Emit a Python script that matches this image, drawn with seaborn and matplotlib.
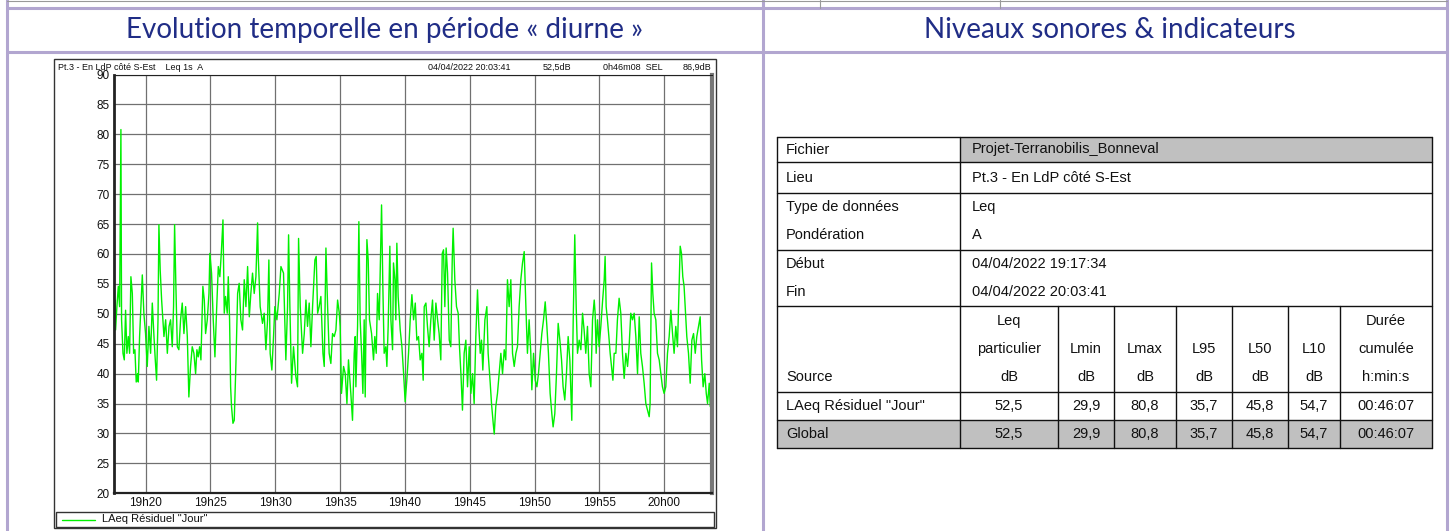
import matplotlib
matplotlib.use("Agg")
import matplotlib.pyplot as plt
import pandas as pd
import seaborn as sns
from matplotlib.patches import Rectangle

# ---- data ----
# time in minutes after 19h00, Leq 1s in dB(A)
minutes = [
    17.57, 17.64, 17.69, 17.79, 17.90, 18.00, 18.10, 18.15, 18.26, 18.36, 18.46, 18.56, 18.67, 18.77,
    18.87, 18.98, 19.08, 19.18, 19.28, 19.39, 19.44, 19.54, 19.64, 19.75, 19.87, 20.00, 20.13, 20.26,
    20.39, 20.52, 20.65, 20.75, 20.85, 20.96, 21.03, 21.13, 21.24, 21.34, 21.42, 21.55, 21.68, 21.81,
    21.93, 22.06, 22.16, 22.24, 22.34, 22.45, 22.57, 22.70, 22.83, 22.96, 23.09, 23.22, 23.34, 23.47,
    23.60, 23.73, 23.86, 23.96, 24.06, 24.17, 24.27, 24.42, 24.53, 24.63, 24.76, 24.89, 24.96, 25.09,
    25.22, 25.35, 25.45, 25.61, 25.73, 25.84, 25.97, 26.07, 26.17, 26.30, 26.38, 26.48, 26.56, 26.63,
    26.74, 26.84,
    26.97, 27.10, 27.22, 27.35, 27.48, 27.61, 27.74, 27.87, 28.00, 28.12, 28.25, 28.38, 28.51, 28.64,
    28.69, 28.84, 29.02, 29.15, 29.28, 29.41, 29.51, 29.61, 29.74, 29.87, 29.97, 30.13, 30.31, 30.44,
    30.64, 30.82, 30.95, 31.03, 31.13, 31.26, 31.41, 31.59, 31.72, 31.80, 31.93, 32.11, 32.24, 32.37,
    32.49, 32.62, 32.75, 32.88, 33.06, 33.16, 33.27, 33.39, 33.52, 33.68, 33.78, 33.91, 34.04, 34.16,
    34.29, 34.42, 34.55, 34.68, 34.81, 34.94, 35.01, 35.11, 35.27, 35.40, 35.53, 35.65, 35.83, 35.96,
    36.09, 36.17,
    36.22, 36.35, 36.45, 36.55, 36.66, 36.76, 36.86, 36.94, 37.07, 37.17, 37.27, 37.43, 37.58, 37.68,
    37.79, 37.89, 38.02, 38.20, 38.30, 38.40, 38.53, 38.61, 38.71, 38.84, 38.92, 39.05, 39.12, 39.23,
    39.30, 39.38, 39.48, 39.64, 39.77, 39.90, 40.02, 40.15, 40.28, 40.41, 40.54, 40.67, 40.80, 40.92,
    41.05, 41.18, 41.31, 41.41, 41.49, 41.62, 41.74, 41.87, 42.00, 42.13, 42.26, 42.39, 42.52, 42.64,
    42.77, 42.88, 42.98, 43.08, 43.18, 43.29, 43.42, 43.54, 43.65, 43.72, 43.85, 43.98, 44.11, 44.21,
    44.32, 44.44, 44.57, 44.70, 44.83, 44.96, 45.09, 45.22, 45.34,
    45.47, 45.60, 45.70, 45.81, 45.91, 46.01, 46.17, 46.32, 46.42, 46.58, 46.68, 46.81, 46.89, 47.01,
    47.14, 47.27, 47.40, 47.53, 47.66, 47.78, 47.91, 48.04, 48.17, 48.30, 48.43, 48.56, 48.68, 48.81,
    48.94, 49.07, 49.20, 49.33, 49.45, 49.58, 49.71, 49.79, 49.92, 50.05, 50.18, 50.30, 50.43, 50.56,
    50.69, 50.82, 50.95, 51.07, 51.20, 51.33, 51.43, 51.56, 51.69, 51.82, 51.95, 52.08, 52.20, 52.33,
    52.46, 52.59, 52.72, 52.87, 52.98, 53.10, 53.21, 53.31, 53.44, 53.57, 53.70, 53.82, 53.95, 54.08,
    54.21, 54.34, 54.47, 54.60,
    54.67, 54.75, 54.85, 54.98, 55.11, 55.24, 55.37, 55.44, 55.52, 55.62, 55.73, 55.83, 55.93, 56.04,
    56.14, 56.27, 56.39, 56.52, 56.65, 56.78, 56.91, 57.04, 57.17, 57.29, 57.42, 57.55, 57.68, 57.81,
    57.94, 58.07, 58.19, 58.32, 58.45, 58.58, 58.71, 58.84, 58.91, 59.02, 59.12, 59.22, 59.35, 59.48,
    59.61, 59.74, 59.86, 59.99, 60.12, 60.25, 60.38, 60.51, 60.64, 60.76, 60.89, 61.02, 61.15, 61.23,
    61.33, 61.43, 61.53, 61.64, 61.74, 61.87, 62.00, 62.13, 62.26, 62.39, 62.51, 62.64, 62.77, 62.88,
    63.00, 63.13, 63.24, 63.34, 63.47, 63.55, 63.68,
]
laeq_db = [
    49.0, 52.3, 47.3, 51.2, 54.6, 51.2, 80.8, 49.0, 43.4, 42.3, 50.6, 43.4, 46.2, 43.4,
    56.2, 53.4, 43.4, 44.0, 38.6, 40.0, 38.6, 46.2, 51.2, 56.5, 50.1, 46.7, 41.2, 47.9,
    43.4, 51.8, 46.2, 42.3, 38.9, 49.0, 64.9, 57.3, 52.3, 49.0, 46.2, 49.0, 43.4, 47.9,
    49.0, 44.5, 51.2, 64.9, 54.6, 44.5, 44.0, 49.0, 51.8, 46.7, 51.2, 46.2, 36.1, 41.2,
    44.5, 43.4, 40.0, 44.0, 42.8, 44.5, 42.3, 54.6, 52.3, 46.7, 49.0, 53.4, 60.1, 56.8,
    49.0, 42.8, 49.0, 57.9, 56.2, 60.1, 65.7, 50.1, 52.9, 50.1, 56.2, 49.0, 37.8, 34.5,
    31.7, 32.2,
    41.7, 53.4, 55.1, 49.0, 47.3, 55.7, 51.2, 57.9, 49.5, 53.4, 56.8, 53.4, 56.2, 65.2,
    59.6, 51.2, 48.4, 50.1, 44.0, 49.0, 59.0, 43.4, 40.6, 46.2, 51.2, 49.0, 53.4, 57.9,
    56.8, 42.3, 51.2, 63.2, 51.2, 38.4, 44.5, 39.5, 37.8, 62.6, 51.2, 43.4, 46.7, 52.3,
    47.9, 51.8, 44.5, 51.2, 59.0, 59.6, 50.1, 51.2, 52.9, 43.4, 41.2, 61.0, 51.2, 43.4,
    41.7, 46.7, 46.2, 47.3, 52.3, 50.1, 47.9, 36.7, 41.2, 40.0, 35.0, 42.3, 36.7, 32.2,
    43.4, 46.2,
    37.8, 47.9, 65.4, 49.0, 43.4, 36.7, 49.0, 36.1, 62.4, 59.0, 49.0, 46.7, 42.3, 46.2,
    43.4, 53.4, 49.0, 68.2, 54.6, 43.4, 44.5, 41.2, 47.9, 61.3, 49.0, 44.0, 58.5, 55.7,
    49.0, 61.8, 52.9, 47.3, 44.5, 40.0, 35.3, 38.9, 43.4, 49.0, 53.2, 49.0, 51.8, 45.6,
    46.2, 42.3, 43.4, 38.9, 51.2, 51.8, 47.9, 44.5, 49.0, 52.3, 45.6, 51.8, 49.0, 46.7,
    42.3, 60.1, 60.7, 51.2, 61.0, 56.8, 45.6, 44.5, 59.0, 64.3, 55.7, 51.2, 50.1, 44.5,
    40.0, 33.9, 43.4, 45.6, 37.8, 44.5, 36.7, 40.0, 35.0,
    46.2, 54.0, 47.9, 43.4, 45.6, 40.6, 49.0, 51.2, 43.4, 38.4, 35.0, 31.7, 29.9, 34.5,
    36.7, 40.0, 43.4, 40.0, 44.0, 42.3, 55.7, 51.2, 55.7, 43.4, 41.2, 43.4, 44.5, 51.2,
    55.7, 58.5, 60.4, 51.2, 43.4, 49.0, 43.4, 37.3, 43.4, 38.9, 37.8, 40.0, 43.4, 46.7,
    49.0, 52.0, 47.9, 43.4, 36.7, 33.3, 31.1, 33.3, 40.0, 48.4, 45.6, 42.3, 37.8, 35.6,
    40.0, 46.2, 42.3, 32.2, 49.0, 63.2, 51.2, 43.4, 45.6, 44.0, 50.1, 47.3, 43.4, 47.9,
    40.0, 37.8, 49.0, 52.3,
    50.1, 43.4, 49.0, 44.5, 47.9, 52.0, 55.7, 59.6, 51.2, 49.0, 46.2, 43.4, 41.2, 38.9,
    43.4, 43.4, 49.0, 52.6, 50.1, 43.4, 39.2, 43.4, 41.2, 44.5, 50.1, 49.0, 50.1, 46.2,
    40.0, 49.5, 43.4, 41.2, 38.4, 35.0, 33.9, 32.8, 35.0, 58.5, 53.4, 50.1, 49.0, 43.4,
    42.3, 40.0, 37.8, 36.7, 37.8, 43.4, 46.2, 50.6, 46.7, 43.4, 47.9, 44.5, 54.6, 61.3,
    60.1, 56.2, 54.6, 50.1, 46.2, 43.4, 38.4, 45.6, 46.7, 43.4, 46.2, 47.9, 49.5, 42.3,
    37.8, 40.0, 36.7, 35.0, 38.4, 34.5, 36.5,
]
start_min, end_min = 17.567, 63.683  # 19:17:34 -> 20:03:41
tick_minutes = [20, 25, 30, 35, 40, 45, 50, 55, 60]
tick_labels = ["19h20", "19h25", "19h30", "19h35", "19h40", "19h45", "19h50", "19h55", "20h00"]
y_ticks = [20, 25, 30, 35, 40, 45, 50, 55, 60, 65, 70, 75, 80, 85, 90]
series_name = 'LAeq Résiduel "Jour"'

chart_head_left = "Pt.3 - En LdP côté S-Est    Leq 1s  A"
chart_head_right = ["04/04/2022 20:03:41", "52,5dB", "0h46m08  SEL", "86,9dB"]

info_labels = ["Fichier", "Lieu", "Type de données", "Pondération", "Début", "Fin"]
info_values = ["Projet-Terranobilis_Bonneval", "Pt.3 - En LdP côté S-Est", "Leq", "A",
               "04/04/2022 19:17:34", "04/04/2022 20:03:41"]
col_headers = [["Leq", "particulier", "dB"], ["", "Lmin", "dB"], ["", "Lmax", "dB"],
               ["", "L95", "dB"], ["", "L50", "dB"], ["", "L10", "dB"],
               ["Durée", "cumulée", "h:min:s"]]
row_sources = ['LAeq Résiduel "Jour"', "Global"]
row_values = [["52,5", "29,9", "80,8", "35,7", "45,8", "54,7", "00:46:07"],
              ["52,5", "29,9", "80,8", "35,7", "45,8", "54,7", "00:46:07"]]

# ---- style ----
sns.set_theme(style="white")
plt.rcParams["font.family"] = ["Liberation Sans", "DejaVu Sans"]

W, H = 1451, 531
fig = plt.figure(figsize=(W / 100, H / 100), dpi=100)
fig.patch.set_facecolor("white")

# page layer in pixel coordinates
page = fig.add_axes([0, 0, 1, 1], zorder=0)
page.set_xlim(0, W)
page.set_ylim(H, 0)
page.axis("off")

lav = "#b2a6d0"
navy = "#202d86"
page.plot([7, 1447], [8, 8], color=lav, lw=2.2)
page.plot([7, 1447], [52, 52], color=lav, lw=2.2)
for xv in (7, 763, 1447):
    page.plot([xv, xv], [0, H], color=lav, lw=2.2)
for xv in (820, 1000):
    page.plot([xv, xv], [0, 8], color="#999999", lw=0.8)
page.plot([7, 1447], [1, 1], color="#999999", lw=0.8)

title_font = dict(fontsize=20, color=navy, family=["Lato", "DejaVu Sans"])
page.text(385, 30, "Evolution temporelle en période « diurne »", ha="center", va="center", **title_font)
page.text(1110, 30, "Niveaux sonores & indicateurs", ha="center", va="center", **title_font)

# chart frame + header + legend row
page.add_patch(Rectangle((54, 59), 662, 469, fill=False, ec="#333333", lw=1.0))
page.text(58, 67, chart_head_left, ha="left", va="center", fontsize=6.5, color="#111111")
for xv, t in zip((428, 543, 603, 711), chart_head_right):
    page.text(xv, 67, t, ha="right" if xv == 711 else "left", va="center", fontsize=6.5,
              color="#111111")
page.add_patch(Rectangle((56, 512), 658, 15, fill=False, ec="#333333", lw=1.0))

# ---- time series ----
df = pd.DataFrame({"minute": minutes, "leq": laeq_db})
ax = fig.add_axes([114 / W, 1 - 493.3 / H, (712 - 114) / W, (493.3 - 74.5) / H], zorder=2)
ax.set_facecolor("white")
sns.lineplot(data=df, x="minute", y="leq", ax=ax, color="#00f000", linewidth=1.0, label=series_name,
             legend=False)
ax.set_xlim(start_min, end_min)
ax.set_ylim(20, 90)
ax.set_xticks(tick_minutes)
ax.set_xticklabels(tick_labels)
ax.set_yticks(y_ticks)
ax.set_xlabel("")
ax.set_ylabel("")
ax.grid(True, color="#707070", linewidth=0.9)
ax.set_axisbelow(True)
ax.tick_params(axis="both", labelsize=8.5, colors="#111111", length=0, pad=3)
for side, (c, w) in {"left": ("#222222", 2.0), "bottom": ("#222222", 1.6),
                     "right": ("#777777", 3.0), "top": ("#222222", 0.8)}.items():
    ax.spines[side].set_visible(True)
    ax.spines[side].set_color(c)
    ax.spines[side].set_linewidth(w)

# legend (manual, inside the chart's bottom box)
page.plot([62, 95], [519.5, 519.5], color="#00f000", lw=1.0)
page.text(102, 519.5, series_name, ha="left", va="center", fontsize=8, color="#111111")

# ---- indicator table ----
tx0, tx1, tsplit = 777, 1432, 960
row_y = [137, 162, 193, 250, 306, 392, 420, 448]
col_x = [960, 1058, 1114, 1176, 1232, 1288, 1340, 1432]
grey = "#c0c0c0"
page.add_patch(Rectangle((tsplit, row_y[0]), tx1 - tsplit, row_y[1] - row_y[0], fc=grey, ec="none"))
page.add_patch(Rectangle((tx0, row_y[6]), tx1 - tx0, row_y[7] - row_y[6], fc=grey, ec="none"))
for yv in row_y:
    page.plot([tx0, tx1], [yv, yv], color="#111111", lw=1.0)
for xv in (tx0, tsplit, tx1):
    page.plot([xv, xv], [row_y[0], row_y[-1]], color="#111111", lw=1.0)
for xv in col_x[1:-1]:
    page.plot([xv, xv], [row_y[4], row_y[-1]], color="#111111", lw=1.0)

fs = 10.5
label_y = [149.5, 178, 207, 235, 264, 292]
for yv, lab, val in zip(label_y, info_labels, info_values):
    page.text(786, yv, lab, ha="left", va="center", fontsize=fs, color="#111111")
    page.text(972, yv, val, ha="left", va="center", fontsize=fs, color="#111111")

centers = [(col_x[i] + col_x[i + 1]) / 2 for i in range(len(col_x) - 1)]
for cx, lines in zip(centers, col_headers):
    for yv, t in zip((321, 349, 377), lines):
        page.text(cx, yv, t, ha="center", va="center", fontsize=fs, color="#111111")
page.text(786, 377, "Source", ha="left", va="center", fontsize=fs, color="#111111")
for yv, src, vals in zip((406, 434), row_sources, row_values):
    page.text(786, yv, src, ha="left", va="center", fontsize=fs, color="#111111")
    for cx, v in zip(centers, vals):
        page.text(cx, yv, v, ha="center", va="center", fontsize=fs, color="#111111")

fig.savefig("out.png", dpi=100, facecolor="white")
plt.close(fig)
